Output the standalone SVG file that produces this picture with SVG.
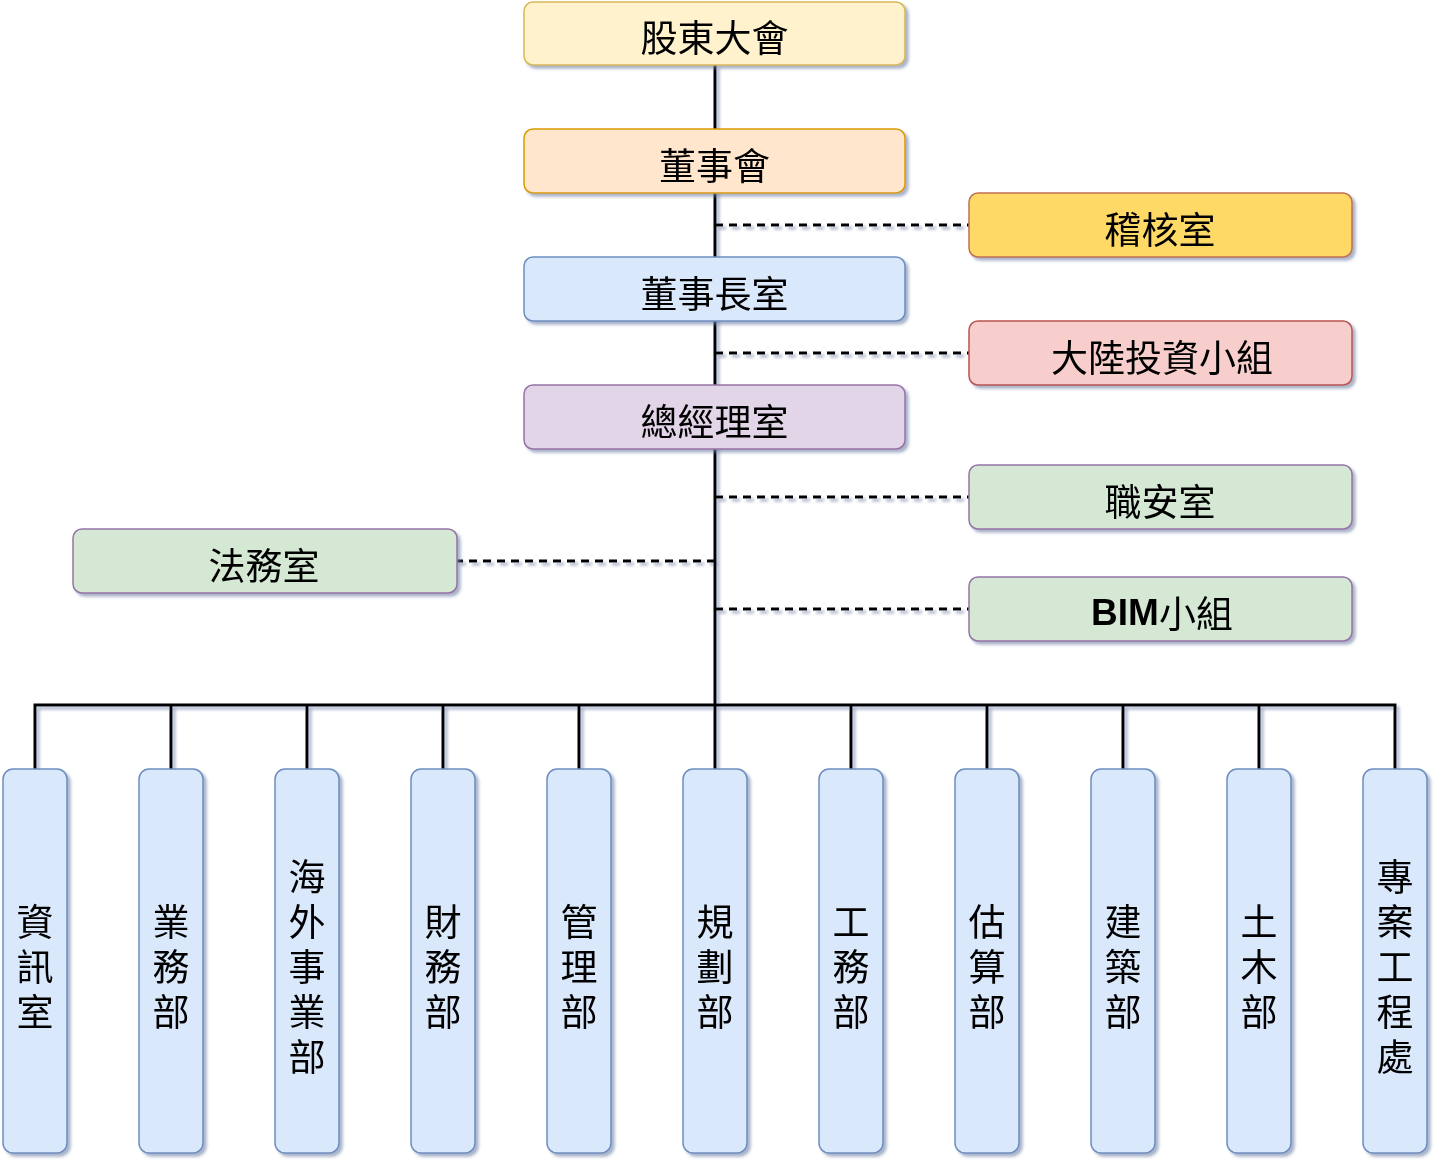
<svg xmlns="http://www.w3.org/2000/svg" width="1440" height="1168" viewBox="0 0 1440 1168">
<style>
text{font-family:"Noto Sans CJK TC","Noto Sans CJK SC",sans-serif;font-size:37px;fill:#000;text-anchor:middle;dominant-baseline:central}
.bim{font-family:"Liberation Sans","Noto Sans CJK TC",sans-serif;font-weight:bold}
.box{stroke-width:1.5}
.dept{fill:#dae8fc;stroke:#6c8ebf;stroke-width:1.5}
.solid{fill:none;stroke:#000;stroke-width:3}
.dash{fill:none;stroke:#000;stroke-width:3;stroke-dasharray:8 6}
</style>
<defs>
<filter id="sh" x="-10%" y="-10%" width="130%" height="130%">
<feDropShadow dx="3" dy="3" stdDeviation="1.8" flood-color="#6f80a6" flood-opacity="0.6"/>
</filter>
</defs>
<g id="connectors" filter="url(#sh)">
<path class="solid" d="M715 65V705"/>
<path class="solid" d="M35 769V705H1395V769"/>
<path class="solid" d="M171 705V769M307 705V769M443 705V769M579 705V769M715 705V769M851 705V769M987 705V769M1123 705V769M1259 705V769"/>
<path class="dash" d="M715 225H969M715 353H969M715 497H969M715 609H969M715 561H457"/>
</g>
<g id="n1" filter="url(#sh)"><rect class="box" x="524" y="2" width="381" height="63" rx="9" fill="#fff2cc" stroke="#d6b656"/><text x="714.5" y="36">股東大會</text></g>
<g id="n2" filter="url(#sh)"><rect class="box" x="524" y="129" width="381" height="64" rx="9" fill="#ffe6cc" stroke="#d79b00"/><text x="714.5" y="164">董事會</text></g>
<g id="n3" filter="url(#sh)"><rect class="box" x="969" y="193" width="383" height="64" rx="9" fill="#ffd966" stroke="#c0704f"/><text x="1160" y="228">稽核室</text></g>
<g id="n4" filter="url(#sh)"><rect class="box" x="524" y="257" width="381" height="64" rx="9" fill="#dae8fc" stroke="#6c8ebf"/><text x="714.5" y="292">董事長室</text></g>
<g id="n5" filter="url(#sh)"><rect class="box" x="969" y="321" width="383" height="64" rx="9" fill="#f8cecc" stroke="#b85450"/><text x="1162" y="356">大陸投資小組</text></g>
<g id="n6" filter="url(#sh)"><rect class="box" x="524" y="385" width="381" height="64" rx="9" fill="#e1d5e7" stroke="#9673a6"/><text x="714.5" y="420">總經理室</text></g>
<g id="n7" filter="url(#sh)"><rect class="box" x="969" y="465" width="383" height="64" rx="9" fill="#d5e8d4" stroke="#9673a6"/><text x="1160" y="500">職安室</text></g>
<g id="n8" filter="url(#sh)"><rect class="box" x="73" y="529" width="384" height="64" rx="9" fill="#d5e8d4" stroke="#9673a6"/><text x="264" y="564">法務室</text></g>
<g id="n9" filter="url(#sh)"><rect class="box" x="969" y="577" width="383" height="64" rx="9" fill="#d5e8d4" stroke="#9673a6"/><text x="1162" y="612"><tspan class="bim">BIM</tspan>小組</text></g>
<g id="d1" filter="url(#sh)"><rect class="dept" x="3" y="769" width="64" height="384" rx="10"/><text x="35"><tspan x="35" y="920">資</tspan><tspan x="35" y="965">訊</tspan><tspan x="35" y="1010">室</tspan></text></g>
<g id="d2" filter="url(#sh)"><rect class="dept" x="139" y="769" width="64" height="384" rx="10"/><text x="171"><tspan x="171" y="920">業</tspan><tspan x="171" y="965">務</tspan><tspan x="171" y="1010">部</tspan></text></g>
<g id="d3" filter="url(#sh)"><rect class="dept" x="275" y="769" width="64" height="384" rx="10"/><text x="307"><tspan x="307" y="875">海</tspan><tspan x="307" y="920">外</tspan><tspan x="307" y="965">事</tspan><tspan x="307" y="1010">業</tspan><tspan x="307" y="1055">部</tspan></text></g>
<g id="d4" filter="url(#sh)"><rect class="dept" x="411" y="769" width="64" height="384" rx="10"/><text x="443"><tspan x="443" y="920">財</tspan><tspan x="443" y="965">務</tspan><tspan x="443" y="1010">部</tspan></text></g>
<g id="d5" filter="url(#sh)"><rect class="dept" x="547" y="769" width="64" height="384" rx="10"/><text x="579"><tspan x="579" y="920">管</tspan><tspan x="579" y="965">理</tspan><tspan x="579" y="1010">部</tspan></text></g>
<g id="d6" filter="url(#sh)"><rect class="dept" x="683" y="769" width="64" height="384" rx="10"/><text x="715"><tspan x="715" y="920">規</tspan><tspan x="715" y="965">劃</tspan><tspan x="715" y="1010">部</tspan></text></g>
<g id="d7" filter="url(#sh)"><rect class="dept" x="819" y="769" width="64" height="384" rx="10"/><text x="851"><tspan x="851" y="920">工</tspan><tspan x="851" y="965">務</tspan><tspan x="851" y="1010">部</tspan></text></g>
<g id="d8" filter="url(#sh)"><rect class="dept" x="955" y="769" width="64" height="384" rx="10"/><text x="987"><tspan x="987" y="920">估</tspan><tspan x="987" y="965">算</tspan><tspan x="987" y="1010">部</tspan></text></g>
<g id="d9" filter="url(#sh)"><rect class="dept" x="1091" y="769" width="64" height="384" rx="10"/><text x="1123"><tspan x="1123" y="920">建</tspan><tspan x="1123" y="965">築</tspan><tspan x="1123" y="1010">部</tspan></text></g>
<g id="d10" filter="url(#sh)"><rect class="dept" x="1227" y="769" width="64" height="384" rx="10"/><text x="1259"><tspan x="1259" y="920">土</tspan><tspan x="1259" y="965">木</tspan><tspan x="1259" y="1010">部</tspan></text></g>
<g id="d11" filter="url(#sh)"><rect class="dept" x="1363" y="769" width="64" height="384" rx="10"/><text x="1395"><tspan x="1395" y="875">專</tspan><tspan x="1395" y="920">案</tspan><tspan x="1395" y="965">工</tspan><tspan x="1395" y="1010">程</tspan><tspan x="1395" y="1055">處</tspan></text></g>
</svg>
